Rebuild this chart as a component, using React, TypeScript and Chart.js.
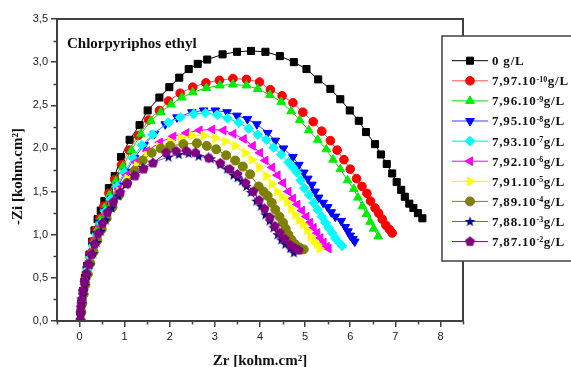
import React, { useEffect, useRef } from 'react';
import { Chart, registerables } from 'chart.js';
import { drawPoint } from 'chart.js/helpers';

Chart.register(...registerables);

// ---------- data ----------
const legendMain = ['0 ', '7,97.10', '7,96.10', '7,95.10', '7,93.10', '7,92.10', '7,91.10', '7,89.10', '7,88.10', '7,87.10'];
const legendExp = ['', '-10', '-9', '-8', '-7', '-6', '-5', '-4', '-3', '-2'];
const xTickValues = [0, 1, 2, 3, 4, 5, 6, 7, 8];
const yTickValues = [0, 0.5, 1, 1.5, 2, 2.5, 3, 3.5];

const s0: number[][] = [[0.02,0],[0.03,0.1],[0.05,0.22],[0.08,0.35],[0.12,0.5],[0.17,0.64],[0.22,0.77],[0.28,0.92],[0.33,1.05],[0.40,1.18],[0.47,1.28],[0.55,1.39],[0.65,1.54],[0.78,1.68],[0.92,1.90],[1.11,2.10],[1.33,2.27],[1.51,2.44],[1.77,2.59],[1.99,2.71],[2.21,2.82],[2.42,2.92],[2.62,2.98],[2.83,3.03],[3.17,3.09],[3.49,3.12],[3.80,3.13],[4.12,3.12],[4.44,3.07],[4.75,3.00],[5.03,2.92],[5.29,2.80],[5.56,2.69],[5.78,2.57],[5.99,2.44],[6.19,2.32],[6.35,2.19],[6.55,2.05],[6.68,1.93],[6.81,1.82],[6.93,1.71],[7.03,1.61],[7.13,1.52],[7.21,1.44],[7.31,1.36],[7.40,1.31],[7.50,1.25],[7.60,1.19]];
const s1: number[][] = [[0.02,0],[0.03,0.1],[0.05,0.22],[0.08,0.35],[0.12,0.48],[0.17,0.62],[0.23,0.77],[0.30,0.92],[0.37,1.05],[0.45,1.19],[0.54,1.33],[0.65,1.48],[0.78,1.64],[0.93,1.81],[1.10,1.98],[1.30,2.15],[1.53,2.33],[1.77,2.44],[1.97,2.55],[2.23,2.64],[2.51,2.71],[2.80,2.76],[3.10,2.79],[3.40,2.81],[3.70,2.80],[3.99,2.77],[4.23,2.68],[4.49,2.61],[4.73,2.53],[4.95,2.42],[5.18,2.31],[5.37,2.20],[5.56,2.09],[5.71,1.98],[5.86,1.87],[6.00,1.76],[6.14,1.65],[6.26,1.56],[6.37,1.48],[6.45,1.39],[6.55,1.31],[6.63,1.25],[6.71,1.18],[6.79,1.11],[6.87,1.06],[6.93,1.02]];
const s2: number[][] = [[0.02,0],[0.03,0.1],[0.05,0.22],[0.08,0.35],[0.12,0.48],[0.17,0.62],[0.23,0.77],[0.30,0.91],[0.37,1.04],[0.45,1.17],[0.55,1.31],[0.66,1.46],[0.80,1.62],[0.96,1.79],[1.15,1.98],[1.36,2.17],[1.58,2.32],[1.80,2.42],[2.03,2.51],[2.27,2.59],[2.51,2.65],[2.81,2.70],[3.11,2.73],[3.40,2.74],[3.70,2.73],[3.95,2.69],[4.22,2.62],[4.47,2.54],[4.69,2.43],[4.88,2.33],[5.08,2.21],[5.28,2.10],[5.47,1.99],[5.62,1.87],[5.78,1.76],[5.94,1.63],[6.08,1.53],[6.17,1.43],[6.27,1.33],[6.36,1.24],[6.44,1.15],[6.52,1.07],[6.62,0.98]];
const s3: number[][] = [[0.02,0],[0.03,0.1],[0.05,0.21],[0.08,0.33],[0.12,0.46],[0.17,0.6],[0.23,0.74],[0.30,0.88],[0.38,1.01],[0.47,1.14],[0.58,1.28],[0.71,1.42],[0.86,1.57],[1.03,1.73],[1.22,1.89],[1.43,2.04],[1.66,2.17],[1.90,2.28],[2.16,2.36],[2.49,2.42],[2.75,2.44],[3.01,2.44],[3.27,2.42],[3.49,2.38],[3.72,2.34],[3.93,2.28],[4.17,2.18],[4.34,2.09],[4.52,2.00],[4.73,1.90],[4.86,1.81],[4.97,1.72],[5.06,1.65],[5.15,1.58],[5.22,1.50],[5.30,1.43],[5.40,1.37],[5.50,1.32],[5.58,1.26],[5.67,1.21],[5.80,1.16],[5.89,1.09],[5.95,1.04],[6.00,0.99],[6.06,0.95],[6.10,0.92]];
const s4: number[][] = [[0.02,0],[0.03,0.1],[0.05,0.21],[0.08,0.33],[0.12,0.45],[0.17,0.59],[0.23,0.73],[0.30,0.87],[0.38,1.00],[0.47,1.13],[0.57,1.27],[0.69,1.41],[0.83,1.56],[0.99,1.72],[1.18,1.89],[1.38,2.04],[1.62,2.16],[1.97,2.30],[2.23,2.36],[2.53,2.40],[2.79,2.41],[3.05,2.39],[3.28,2.35],[3.53,2.30],[3.75,2.23],[3.95,2.16],[4.14,2.10],[4.30,2.01],[4.47,1.93],[4.63,1.84],[4.73,1.78],[4.82,1.72],[4.90,1.63],[4.98,1.54],[5.09,1.46],[5.19,1.37],[5.28,1.29],[5.37,1.21],[5.45,1.14],[5.52,1.08],[5.60,1.02],[5.67,0.96],[5.75,0.91],[5.82,0.87]];
const s5: number[][] = [[0.02,0],[0.03,0.1],[0.05,0.2],[0.08,0.32],[0.12,0.44],[0.17,0.57],[0.23,0.7],[0.30,0.83],[0.38,0.96],[0.48,1.10],[0.59,1.24],[0.72,1.38],[0.87,1.53],[1.05,1.69],[1.25,1.84],[1.50,1.97],[1.78,2.07],[2.08,2.14],[2.37,2.18],[2.66,2.21],[2.94,2.22],[3.19,2.21],[3.41,2.17],[3.64,2.11],[3.84,2.03],[4.00,1.95],[4.12,1.86],[4.27,1.78],[4.39,1.69],[4.51,1.60],[4.63,1.50],[4.73,1.42],[4.83,1.35],[4.93,1.28],[5.03,1.21],[5.11,1.14],[5.19,1.08],[5.27,1.02],[5.34,0.96],[5.41,0.91],[5.48,0.86],[5.52,0.84]];
const s6: number[][] = [[0.03,0],[0.04,0.1],[0.06,0.2],[0.09,0.31],[0.13,0.43],[0.18,0.56],[0.24,0.69],[0.31,0.82],[0.39,0.95],[0.49,1.08],[0.60,1.22],[0.73,1.36],[0.88,1.50],[1.06,1.65],[1.27,1.80],[1.50,1.92],[1.76,2.02],[2.01,2.08],[2.25,2.12],[2.49,2.15],[2.75,2.15],[3.01,2.12],[3.23,2.08],[3.45,2.03],[3.67,1.95],[3.82,1.87],[3.98,1.78],[4.14,1.68],[4.26,1.59],[4.38,1.50],[4.49,1.44],[4.60,1.38],[4.69,1.30],[4.78,1.23],[4.87,1.17],[4.95,1.12],[5.04,1.05],[5.12,0.98],[5.19,0.93],[5.26,0.89],[5.32,0.84]];
const s7: number[][] = [[0.03,0],[0.04,0.1],[0.06,0.2],[0.09,0.31],[0.13,0.42],[0.18,0.54],[0.24,0.67],[0.31,0.80],[0.39,0.93],[0.49,1.06],[0.60,1.19],[0.73,1.32],[0.88,1.46],[1.05,1.60],[1.22,1.74],[1.40,1.86],[1.60,1.95],[1.80,2.00],[2.01,2.03],[2.30,2.05],[2.60,2.06],[2.82,2.03],[3.03,1.99],[3.25,1.92],[3.45,1.86],[3.62,1.79],[3.78,1.70],[3.97,1.56],[4.08,1.50],[4.17,1.45],[4.26,1.37],[4.34,1.29],[4.43,1.21],[4.51,1.14],[4.57,1.07],[4.63,1.00],[4.70,0.94],[4.78,0.89],[4.88,0.85],[4.97,0.83]];
const s8: number[][] = [[0.02,0],[0.03,0.1],[0.05,0.2],[0.08,0.3],[0.12,0.41],[0.17,0.53],[0.23,0.65],[0.30,0.78],[0.38,0.91],[0.47,1.04],[0.58,1.17],[0.71,1.31],[0.86,1.45],[1.02,1.58],[1.20,1.69],[1.40,1.78],[1.62,1.84],[1.97,1.90],[2.20,1.93],[2.42,1.94],[2.64,1.91],[2.91,1.88],[3.12,1.81],[3.27,1.76],[3.41,1.69],[3.50,1.66],[3.60,1.62],[3.70,1.56],[3.80,1.49],[3.92,1.39],[4.02,1.33],[4.12,1.23],[4.21,1.16],[4.30,1.08],[4.39,1.00],[4.47,0.94],[4.56,0.89],[4.67,0.84],[4.75,0.79]];
const s9: number[][] = [[0.02,0],[0.02,0.08],[0.03,0.16],[0.05,0.25],[0.08,0.35],[0.11,0.45],[0.15,0.55],[0.20,0.66],[0.26,0.77],[0.33,0.89],[0.41,1.01],[0.51,1.13],[0.62,1.26],[0.75,1.38],[0.90,1.49],[1.06,1.59],[1.23,1.68],[1.42,1.76],[1.63,1.83],[1.92,1.95],[2.14,1.97],[2.37,1.97],[2.57,1.95],[2.86,1.89],[3.12,1.83],[3.33,1.76],[3.50,1.70],[3.68,1.60],[3.85,1.50],[3.98,1.40],[4.10,1.30],[4.22,1.20],[4.33,1.10],[4.44,1.02],[4.55,0.95],[4.67,0.88],[4.78,0.84],[4.86,0.82]];

const seriesData = [s0, s1, s2, s3, s4, s5, s6, s7, s8, s9];

// ---------- styles ----------
const markerColors = ['#000000', '#ff0000', '#00ee00', '#0000ff', '#00ffff', '#ff00ff', '#ffff00', '#808000', '#000080', '#800080'];
const lineColors = ['#000000', '#ff5050', '#00dd00', '#4040ff', '#00e0e0', '#ff00ff', '#f0f000', '#808000', '#6060c0', '#800080'];
const baseStyles = ['rect', 'circle', 'triangle', 'triangle', 'rectRot', 'triangle', 'triangle', 'circle', 'star5', 'pentagon'];
const rotations = [0, 0, 0, 180, 0, -90, 90, 0, 0, 0];
const radii = [5, 4.3, 5, 5, 4.8, 5, 5, 4.5, 5, 5];

function makeShape(kind: string, color: string): HTMLCanvasElement {
  const c = document.createElement('canvas');
  c.width = 11; c.height = 11;
  const g = c.getContext('2d')!;
  g.fillStyle = color;
  g.beginPath();
  const cx = 5.5, cy = 5.8;
  if (kind === 'star5') {
    for (let k = 0; k < 10; k++) {
      const r = k % 2 === 0 ? 5.5 : 2.3;
      const a = -Math.PI / 2 + (k * Math.PI) / 5;
      const px = cx + r * Math.cos(a), py = cy + r * Math.sin(a);
      if (k === 0) g.moveTo(px, py); else g.lineTo(px, py);
    }
  } else {
    for (let k = 0; k < 5; k++) {
      const a = -Math.PI / 2 + (k * 2 * Math.PI) / 5;
      const px = cx + 5.2 * Math.cos(a), py = cy - 0.3 + 5.2 * Math.sin(a);
      if (k === 0) g.moveTo(px, py); else g.lineTo(px, py);
    }
  }
  g.closePath();
  g.fill();
  return c;
}

export default function App() {
  const ref = useRef<HTMLCanvasElement>(null);

  useEffect(() => {
    const canvas = ref.current!;
    const styles: any[] = baseStyles.map((s, i) =>
      s === 'star5' || s === 'pentagon' ? makeShape(s, markerColors[i]) : s
    );

    const decor = {
      id: 'decor',
      afterDraw(chart: any) {
        const { ctx, chartArea: a } = chart;
        const xs = chart.scales.x, ys = chart.scales.y;
        ctx.save();
        // frame
        ctx.strokeStyle = '#404040';
        ctx.lineWidth = 2;
        ctx.strokeRect(a.left, a.top, a.right - a.left, a.bottom - a.top);
        // minor ticks
        ctx.lineWidth = 1.5;
        ctx.beginPath();
        for (let v = -0.5; v <= 8.51; v += 1) {
          const px = Math.round(xs.getPixelForValue(v)) + 0.5;
          ctx.moveTo(px, a.bottom);
          ctx.lineTo(px, a.bottom + 3.5);
        }
        for (let v = 0.25; v < 3.5; v += 0.5) {
          const py = Math.round(ys.getPixelForValue(v)) + 0.5;
          ctx.moveTo(a.left, py);
          ctx.lineTo(a.left - 3.5, py);
        }
        ctx.stroke();

        // chart title
        ctx.fillStyle = '#111';
        ctx.textBaseline = 'alphabetic';
        ctx.textAlign = 'left';
        ctx.font = 'bold 15px "Liberation Serif"';
        ctx.fillText('Chlorpyriphos ethyl', 67, 47.5);

        // axis titles
        const boldF = 'bold 15px "Liberation Serif"';
        const regF = 'bold 15px "Liberation Serif"';
        const drawMixed = (p1: string, p2: string, cx: number, by: number) => {
          ctx.font = boldF; const w1 = ctx.measureText(p1).width;
          ctx.font = regF; const w2 = ctx.measureText(p2).width;
          const x0 = cx - (w1 + w2) / 2;
          ctx.font = boldF; ctx.fillText(p1, x0, by);
          ctx.font = regF; ctx.fillText(p2, x0 + w1, by);
        };
        drawMixed('Zr ', '[kohm.cm²]', (a.left + a.right) / 2, 365);
        ctx.save();
        ctx.translate(22, 176.5);
        ctx.rotate(-Math.PI / 2);
        drawMixed('-Zi ', '[kohm.cm²]', 0, 0);
        ctx.restore();

        // legend box
        const lx = 442, ly = 36, lh = 225;
        ctx.fillStyle = '#ffffff';
        ctx.fillRect(lx, ly, 200, lh);
        ctx.strokeStyle = '#404040';
        ctx.lineWidth = 1.5;
        ctx.strokeRect(lx, ly, 200, lh);
        for (let i = 0; i < legendMain.length; i++) {
          const yy = 60.7 + i * 20.1;
          ctx.strokeStyle = lineColors[i];
          ctx.lineWidth = 1;
          ctx.beginPath();
          ctx.moveTo(452, yy);
          ctx.lineTo(488, yy);
          ctx.stroke();
          ctx.fillStyle = markerColors[i];
          ctx.strokeStyle = markerColors[i];
          drawPoint(ctx, { pointStyle: styles[i], rotation: rotations[i], radius: radii[i], borderWidth: 1 } as any, 470, yy);
          ctx.fillStyle = '#111';
          (ctx as any).letterSpacing = '0.8px';
          ctx.font = 'bold 13px "Liberation Serif"';
          let tx = 492;
          ctx.fillText(legendMain[i], tx, yy + 4.4);
          tx += ctx.measureText(legendMain[i]).width;
          if (legendExp[i]) {
            ctx.font = 'bold 8px "Liberation Serif"';
            (ctx as any).letterSpacing = '0px';
            ctx.fillText(legendExp[i], tx, yy + 0.8);
            tx += ctx.measureText(legendExp[i]).width + 0.5;
            ctx.font = 'bold 13px "Liberation Serif"';
            (ctx as any).letterSpacing = '0.8px';
          }
          ctx.fillText('g/L', tx, yy + 4.4);
          (ctx as any).letterSpacing = '0px';
        }
        ctx.restore();
      },
    };

    const tickFont = { family: '"Liberation Sans"', size: 11 };
    const chart = new Chart(canvas, {
      type: 'scatter',
      data: {
        datasets: seriesData.map((d, i) => ({
          label: legendMain[i] + legendExp[i] + 'g/L',
          data: d.map(([x, y]) => ({ x, y })),
          showLine: true,
          borderColor: lineColors[i],
          borderWidth: 1,
          backgroundColor: markerColors[i],
          pointBackgroundColor: markerColors[i],
          pointBorderColor: markerColors[i],
          pointBorderWidth: 1,
          pointStyle: styles[i],
          pointRotation: rotations[i],
          pointRadius: radii[i],
          pointHoverRadius: radii[i],
          order: 10 - i,
        })),
      },
      options: {
        responsive: false,
        animation: false,
        events: [],
        layout: { padding: { top: 19, right: 108, left: 0, bottom: 0 } },
        plugins: { legend: { display: false }, tooltip: { enabled: false }, title: { display: false } },
        scales: {
          x: {
            type: 'linear',
            min: -0.5,
            max: 8.5,
            afterBuildTicks: (s: any) => { s.ticks = xTickValues.map((v) => ({ value: v })); },
            afterFit: (s: any) => { s.height = 46; },
            ticks: { font: tickFont, color: '#222', padding: 3, maxRotation: 0, callback: (v: any) => String(v) },
            grid: { drawOnChartArea: false, drawTicks: true, tickLength: 6, color: '#404040', lineWidth: 1.5 },
            border: { display: true, color: '#404040', width: 2 },
          },
          y: {
            type: 'linear',
            min: 0,
            max: 3.5,
            afterBuildTicks: (s: any) => { s.ticks = yTickValues.map((v) => ({ value: v })); },
            afterFit: (s: any) => { s.width = 57; },
            ticks: { font: tickFont, color: '#222', padding: 3, callback: (v: any) => Number(v).toFixed(1).replace('.', ',') },
            grid: { drawOnChartArea: false, drawTicks: true, tickLength: 6, color: '#404040', lineWidth: 1.5 },
            border: { display: true, color: '#404040', width: 2 },
          },
        },
      } as any,
      plugins: [decor],
    });
    return () => chart.destroy();
  }, []);

  return (
    <div style={{ position: 'fixed', left: 0, top: 0, width: 571, height: 367, background: '#fff' }}>
      <canvas ref={ref} width={571} height={367} style={{ display: 'block' }} />
    </div>
  );
}
